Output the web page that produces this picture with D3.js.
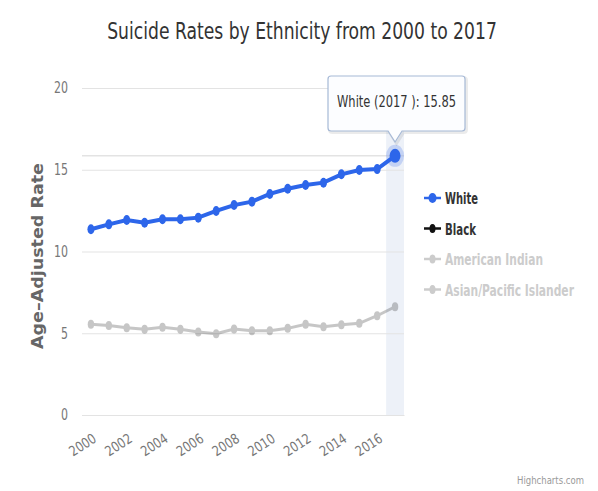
<!DOCTYPE html>
<html>
<head>
<meta charset="utf-8">
<script src="https://cdn.jsdelivr.net/npm/d3@7"></script>
<style>
  html, body { margin: 0; padding: 0; background: #fff; }
  svg { display: block; }
  text { font-family: "DejaVu Sans Condensed", "DejaVu Sans", sans-serif; font-stretch: condensed; }
</style>
</head>
<body>
<svg id="chart" width="598" height="491"></svg>
<script>
const years = d3.range(2000, 2018);
const whiteRates = [11.36, 11.66, 11.93, 11.76, 11.97, 11.97, 12.07, 12.48, 12.84, 13.05, 13.52, 13.84, 14.07, 14.21, 14.72, 14.98, 15.04, 15.85];
const blackRates = [5.55, 5.48, 5.34, 5.24, 5.36, 5.24, 5.08, 4.97, 5.26, 5.16, 5.16, 5.30, 5.55, 5.40, 5.52, 5.61, 6.07, 6.62];
const yTicks = [0, 5, 10, 15, 20];
const xTickYears = [2000, 2002, 2004, 2006, 2008, 2010, 2012, 2014, 2016];
const legendNames = ["White", "Black", "American Indian", "Asian/Pacific Islander"];
const legendWidths = [33, 31, 98, 129];
const legendActive = [true, true, false, false];
const hoverIndex = 17;

const svg = d3.select("#chart");
const plot = { left: 82, right: 404, top: 88, bottom: 415 };

const x = d3.scalePoint().domain(years).range([plot.left, plot.right]).padding(0.5);
const y = d3.scaleLinear().domain([0, 20]).range([plot.bottom, plot.top]);
const step = x.step();

// squeeze a text horizontally to a target width, using a transform
function fitText(sel, px, py, width) {
  sel.attr("x", 0).attr("y", 0);
  const w = sel.node().getComputedTextLength();
  const k = w > 0 ? width / w : 1;
  sel.attr("transform", `translate(${px},${py}) scale(${k},1)`);
}

// Title
const title = svg.append("text").attr("text-anchor", "middle")
  .attr("font-size", 23).attr("fill", "#333")
  .text("Suicide Rates by Ethnicity from 2000 to 2017");
fitText(title, 302, 39, 390);

// crosshair band
svg.append("rect").attr("x", x(years[hoverIndex]) - step / 2).attr("y", plot.top)
  .attr("width", step).attr("height", plot.bottom - plot.top)
  .attr("fill", "#ccd6eb").attr("opacity", 0.35);

// gridlines
const yAxis = d3.axisLeft(y).tickValues(yTicks).tickSize(-(plot.right - plot.left)).tickPadding(14);
const gy = svg.append("g").attr("transform", `translate(${plot.left},0)`).call(yAxis);
gy.select(".domain").remove();
gy.selectAll(".tick line").attr("stroke", "#e3e3e3");
gy.selectAll(".tick text").attr("font-size", 15).attr("fill", "#777").attr("x", -14)
  .attr("font-family", null)
  .attr("textLength", d => d >= 10 ? 14 : 7).attr("lengthAdjust", "spacingAndGlyphs");

// horizontal crosshair
svg.append("line").attr("x1", plot.left).attr("x2", plot.right)
  .attr("y1", y(whiteRates[hoverIndex])).attr("y2", y(whiteRates[hoverIndex]))
  .attr("stroke", "#e3e3e3").attr("stroke-width", 1.5);

// x axis
const xAxis = d3.axisBottom(x).tickValues(xTickYears).tickSize(0).tickFormat(d3.format("d"));
const gx = svg.append("g").attr("transform", `translate(0,${plot.bottom})`).call(xAxis);
gx.select(".domain").attr("stroke", "#e3e3e3");
gx.selectAll(".tick text").attr("font-size", 14).attr("fill", "#777")
  .attr("font-family", null)
  .attr("textLength", 29).attr("lengthAdjust", "spacingAndGlyphs")
  .attr("text-anchor", "end").attr("dy", 0).attr("y", 0)
  .attr("transform", "translate(6,26) rotate(-33)");

// Y axis title
svg.append("text").attr("transform", "translate(43,256) rotate(-90)")
  .attr("text-anchor", "middle").attr("font-size", 15).attr("font-weight", "bold")
  .attr("fill", "#666").attr("textLength", 186).attr("lengthAdjust", "spacingAndGlyphs")
  .text("Age–Adjusted Rate");

const line = d3.line().x((d, i) => x(years[i])).y(d => y(d));

// Black series (inactive)
const gb = svg.append("g").attr("opacity", 0.22);
gb.append("path").datum(blackRates).attr("d", line).attr("fill", "none")
  .attr("stroke", "#000").attr("stroke-width", 3);
gb.selectAll("ellipse").data(blackRates).join("ellipse")
  .attr("cx", (d, i) => x(years[i])).attr("cy", d => y(d)).attr("rx", 3.2).attr("ry", 4.5)
  .attr("fill", "#000");

// White series
const blue = "#2d66ea";
svg.append("path").datum(whiteRates).attr("d", line).attr("fill", "none")
  .attr("stroke", blue).attr("stroke-width", 4);
svg.selectAll("ellipse.w").data(whiteRates.slice(0, hoverIndex)).join("ellipse").attr("class", "w")
  .attr("cx", (d, i) => x(years[i])).attr("cy", d => y(d)).attr("rx", 3.5).attr("ry", 5)
  .attr("fill", blue);
// hover halo
const hx = x(years[hoverIndex]), hy = y(whiteRates[hoverIndex]);
svg.append("ellipse").attr("cx", hx).attr("cy", hy).attr("rx", 9).attr("ry", 11)
  .attr("fill", blue).attr("opacity", 0.22);
svg.append("ellipse").attr("cx", hx).attr("cy", hy).attr("rx", 5.5).attr("ry", 7)
  .attr("fill", blue);

// Legend
const lg = svg.append("g");
legendNames.forEach((name, i) => {
  const ly = 198 + i * 30.5;
  const col = i === 0 ? blue : (legendActive[i] ? "#111" : "#ccc");
  lg.append("line").attr("x1", 424).attr("x2", 441).attr("y1", ly).attr("y2", ly)
    .attr("stroke", col).attr("stroke-width", 2.5);
  lg.append("ellipse").attr("cx", 432.5).attr("cy", ly).attr("rx", i === 0 ? 4 : 3).attr("ry", i === 0 ? 5 : 4.5)
    .attr("fill", col);
  const t = lg.append("text").attr("font-size", 16).attr("font-weight", "bold")
    .attr("fill", legendActive[i] ? "#333" : "#ccc").text(name);
  fitText(t, 445, ly + 6, legendWidths[i]);
});

// Tooltip
const tt = svg.append("g");
const bx = 328, by = 76, bw = 137, bh = 55;
const tipX = hx, tipY = by + bh + 11;
const pathD = `M${bx + 3},${by} H${bx + bw - 3} Q${bx + bw},${by} ${bx + bw},${by + 3} V${by + bh - 3} Q${bx + bw},${by + bh} ${bx + bw - 3},${by + bh} H${tipX + 7} L${tipX},${tipY} L${tipX - 7},${by + bh} H${bx + 3} Q${bx},${by + bh} ${bx},${by + bh - 3} V${by + 3} Q${bx},${by} ${bx + 3},${by} Z`;
tt.append("path").attr("d", pathD).attr("transform", "translate(1.5,1.5)")
  .attr("fill", "none").attr("stroke", "#000").attr("stroke-opacity", 0.08).attr("stroke-width", 3);
tt.append("path").attr("d", pathD).attr("fill", "#fcfdff").attr("stroke", "#a6b9d6").attr("stroke-width", 1.2);
const ttText = tt.append("text").attr("text-anchor", "middle")
  .attr("font-size", 15).attr("fill", "#333")
  .text(`White (${years[hoverIndex]} ): ${whiteRates[hoverIndex]}`);
fitText(ttText, bx + bw / 2, by + 31, 119);

// Credits
const cr = svg.append("text").attr("text-anchor", "end")
  .attr("font-size", 11).attr("fill", "#999").text("Highcharts.com");
fitText(cr, 584, 484, 67);
</script>
</body>
</html>
